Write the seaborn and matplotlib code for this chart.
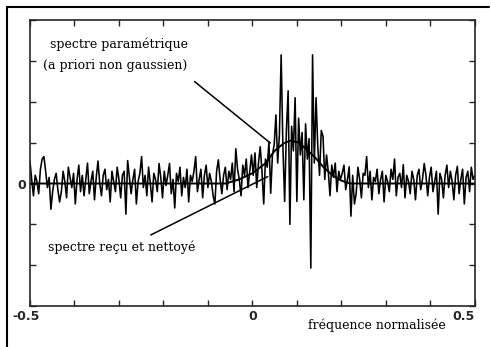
import matplotlib
matplotlib.use("Agg")
import matplotlib.pyplot as plt
from matplotlib.lines import Line2D
from matplotlib.transforms import ScaledTranslation
import seaborn as sns
import numpy as np

# spectre reçu et nettoyé (256 raies)
spectre_recu = [
    0.55, 0.1, -0.3, 0.2, 0.05, -0.25, 0.35, 0.6, 0.66, 0.3, -0.1, 0.15, -0.63, -0.2, 0.1, 0.25,
    -0.15, -0.45, -0.2, 0.3, 0.05, -0.35, 0.4, 0.15, -0.1, 0.25, -0.5, 0.1, 0.45, -0.2, 0.2, -0.3,
    0.1, 0.5, -0.25, 0.05, 0.3, -0.4, 0.15, 0.55, 0.0, -0.3, 0.2, 0.35, -0.15, 0.1, -0.45, 0.3,
    0.05, -0.2, 0.4, 0.1, -0.35, 0.2, 0.3, -0.75, 0.56, 0.15, -0.25, 0.1, 0.35, -0.5, 0.05, 0.25,
    0.66, -0.1, 0.2, -0.3, 0.4, 0.0, -0.45, 0.25, 0.1, -0.2, 0.49, 0.15, -0.35, 0.3, -0.05, 0.2,
    0.49, -0.25, 0.1, -0.6, 0.25, 0.05, 0.4, -0.3, 0.15, -0.1, 0.35, -0.45, 0.2, 0.05, 0.3, 0.66,
    -0.2, 0.1, 0.35, -0.35, 0.2, 0.45, -0.1, 0.25, 0.05, -0.3, -0.5, 0.3, 0.58, 0.1, -0.25, 0.2,
    0.4, -0.15, 0.3, 0.1, 0.5, -0.2, 0.85, 0.35, 0.1, -0.3, 0.45, 0.2, 0.6, -0.1, 0.3, 0.7,
    0.2, 0.75, -0.1, 0.5, 0.9, 0.3, -0.5, 0.6, 0.4, 1.02, -0.24, 0.7, 0.95, 1.68, 0.5, 1.2,
    3.15, 0.9, -0.44, 1.3, 2.27, -1.0, 1.4, 0.8, 2.1, -0.44, 1.6, 0.7, 1.25, -0.4, 1.46, 0.6,
    1.1, -2.07, 3.15, 0.5, 2.1, 0.9, 0.2, 1.3, 1.15, 0.1, 0.7, 0.3, -0.3, 0.45, 0.15, 0.5,
    -0.2, 0.3, 0.1, 0.25, 0.45, -0.15, 0.1, 0.41, -0.8, 0.2, -0.5, -0.25, 0.4, 0.1, -0.35, 0.25,
    0.2, 0.66, -0.1, 0.3, -0.4, 0.15, 0.05, 0.35, -0.25, 0.1, 0.3, -0.45, 0.2, 0.05, -0.2, 0.35,
    0.1, 0.6, -0.3, 0.15, 0.25, -0.1, 0.46, -0.35, 0.2, 0.05, -0.25, 0.3, 0.1, -0.4, 0.2, 0.35,
    -0.15, 0.1, 0.49, 0.2, -0.3, 0.15, 0.4, -0.2, 0.05, 0.3, -0.75, 0.25, 0.1, -0.35, 0.2, 0.45,
    -0.1, 0.3, 0.05, -0.4, 0.2, 0.42, -0.25, 0.1, 0.35, -0.5, 0.15, 0.3, -0.2, 0.4, 0.1, 0.2,
]
frequence = np.linspace(-0.5, 0.5, len(spectre_recu))

# spectre paramétrique (courbe lisse)
freq_param = [-0.5, -0.06, -0.03, 0.0, 0.03, 0.05, 0.07, 0.085, 0.105, 0.12, 0.14, 0.16,
              0.18, 0.2, 0.22, 0.5]
spectre_param = [0.0, 0.0, 0.1, 0.25, 0.5, 0.8, 0.98, 1.05, 1.0, 0.85, 0.65, 0.4,
                 0.2, 0.07, 0.0, 0.0]

x_ticks = [-0.5, -0.4, -0.3, -0.2, -0.1, 0.0, 0.1, 0.2, 0.3, 0.4, 0.5]
x_labels = ['-0.5', '', '', '', '', '0', '', '', '', '', '0.5']
y_ticks = [-3, -2, -1, 0, 1, 2, 3, 4]
y_labels = ['', '', '', '0', '', '', '', '']

sns.set_style("ticks")
plt.rcParams['font.family'] = ['DejaVu Sans']

fig = plt.figure(figsize=(4.91, 3.47), dpi=100)
ax = fig.add_axes([0.061, 0.118, 0.906, 0.824])

sns.lineplot(x=frequence, y=spectre_recu, color='black', linewidth=1.15, ax=ax)
sns.lineplot(x=freq_param, y=spectre_param, color='black', linewidth=1.4, ax=ax)

ax.set_xlim(-0.5, 0.5)
ax.set_ylim(-3, 4)
ax.set_xticks(x_ticks)
ax.set_xticklabels(x_labels)
ax.set_yticks(y_ticks)
ax.set_yticklabels(y_labels)
ax.tick_params(direction='in', top=True, right=True, length=4, width=1,
               labelsize=9, pad=3)
for lab in ax.get_xticklabels() + ax.get_yticklabels():
    lab.set_fontweight('bold')
xl = ax.get_xticklabels()
# léger décalage du premier libellé vers la gauche, dernier aligné à droite
xl[0].set_transform(xl[0].get_transform() + ScaledTranslation(-4 / 100, 0, fig.dpi_scale_trans))
xl[-1].set_horizontalalignment('right')
for s in ax.spines.values():
    s.set_linewidth(1.2)
    s.set_visible(True)

serif = dict(family='DejaVu Serif', fontsize=9, color='black')
ax.text(-0.455, 3.4, 'spectre paramétrique', ha='left', va='center', **serif)
ax.text(-0.47, 2.9, '(a priori non gaussien)', ha='left', va='center', **serif)
ax.text(-0.46, -1.55, 'spectre reçu et nettoyé', ha='left', va='center', **serif)
ax.annotate('', xy=(0.045, 0.95), xytext=(-0.135, 2.54),
            arrowprops=dict(arrowstyle='-', color='black', lw=1.1))
ax.annotate('', xy=(0.04, 0.2), xytext=(-0.234, -1.29),
            arrowprops=dict(arrowstyle='-', color='black', lw=1.1))
fig.text(0.627, 0.063, 'fréquence normalisée', ha='left', va='center', **serif)

# cadre extérieur (haut et gauche)
fig.add_artist(Line2D([7 / 491, 489 / 491], [1 - 7 / 347, 1 - 7 / 347],
                      color='black', lw=1.5, transform=fig.transFigure))
fig.add_artist(Line2D([7 / 491, 7 / 491], [0, 1 - 7 / 347],
                      color='black', lw=1.5, transform=fig.transFigure))

fig.savefig('out.png', dpi=100)
